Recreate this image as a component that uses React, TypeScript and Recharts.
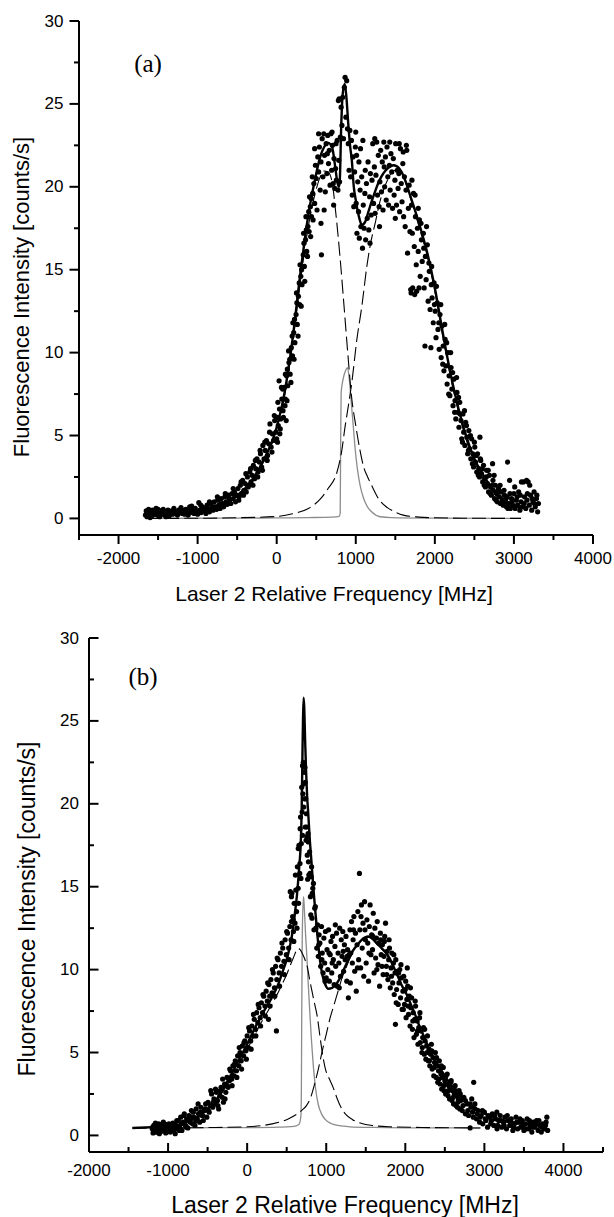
import React from "react";
import { ComposedChart, XAxis, YAxis, Scatter, Line } from "recharts";

type P = [number, number];

// ---------- Panel (a) ----------
const xTicksA = [-2500, -2000, -1500, -1000, -500, 0, 500, 1000, 1500, 2000, 2500, 3000, 3500, 4000];
const yTicks = [0, 2.5, 5, 7.5, 10, 12.5, 15, 17.5, 20, 22.5, 25, 27.5, 30];

const scatterA: P[] = [
  [-1660,0.2],[-1650,0.45],[-1640,0.1],[-1630,0.3],[-1620,0.55],[-1610,0.2],[-1595,0.35],[-1580,0.15],[-1570,0.5],[-1555,0.25],[-1540,0.4],[-1525,0.6],[-1510,0.2],[-1495,0.35],[-1480,0.1],[-1465,0.45],[-1450,0.3],[-1435,0.55],[-1420,0.2],[-1405,0.4],[-1390,0.25],[-1375,0.5],[-1360,0.15],[-1345,0.35],[-1330,0.45],[-1315,0.25],[-1300,0.6],[-1285,0.3],[-1270,0.4],[-1255,0.2],[-1240,0.5],[-1225,0.35],[-1210,0.65],[-1195,0.3],[-1180,0.45],[-1165,0.25],[-1150,0.55],[-1135,0.4],[-1120,0.2],[-1105,0.5],[-1090,0.35],[-1075,0.75],[-1060,0.4],[-1045,0.3],[-1030,0.6],[-1015,0.45],[-1000,0.25],
  [-985,0.95],[-970,0.5],[-955,0.35],[-940,0.7],[-925,0.45],[-910,0.6],[-895,0.3],[-880,0.8],[-865,0.55],[-850,0.4],[-835,0.9],[-820,0.65],[-805,0.5],[-790,1.0],[-775,0.7],[-760,0.55],[-745,1.1],[-730,0.8],[-715,0.6],[-700,1.2],[-685,0.9],[-670,0.7],[-655,1.3],[-640,1.0],[-625,0.85],[-610,1.4],[-595,1.1],[-580,0.9],[-565,1.5],[-550,1.2],[-535,1.6],[-520,1.0],[-505,1.4],
  [-490,1.8],[-475,1.3],[-460,2.0],[-445,1.5],[-430,2.3],[-415,1.7],[-400,2.1],[-385,1.6],[-370,2.5],[-355,2.0],[-340,2.8],[-325,2.2],[-310,2.6],[-295,3.2],[-280,2.4],[-265,3.0],[-250,3.6],[-235,2.8],[-220,3.4],[-205,3.9],[-190,3.1],[-175,4.4],[-160,3.6],[-145,4.1],[-130,4.7],[-115,3.8],[-100,4.5],[-85,5.7],[-70,4.3],[-55,5.1],[-40,4.7],[-25,5.9],[-10,5.2],[5,6.1],
  [20,5.6],[30,8.3],[35,6.6],[50,6.0],[65,7.2],[80,6.5],[95,7.9],[110,7.2],[120,5.9],[125,8.6],[140,8.0],[155,9.4],[170,8.7],[185,10.3],[200,9.8],[215,11.2],[230,10.6],[245,12.3],[260,11.7],[275,13.4],[290,12.9],[305,14.6],[320,14.1],[335,15.9],[350,15.2],[365,16.8],[380,16.1],[395,17.6],[410,17.3],[425,18.8],[440,18.2],[455,19.6],
  [10,4.6],[45,5.4],[75,7.8],[105,6.8],[135,9.0],[165,9.6],[195,11.0],[225,12.0],[255,13.0],[285,14.2],[315,15.0],[345,16.6],[375,17.4],[405,18.5],[435,19.3],
  [470,20.2],[480,19.0],[490,21.3],[500,20.5],[510,18.6],[520,21.8],[530,20.9],[540,22.4],[550,19.8],[560,21.5],[566,15.9],[575,22.9],[585,20.6],[595,23.2],[605,21.9],[615,19.7],[625,22.6],[635,20.8],[645,23.1],[655,21.4],[665,22.2],[675,20.1],[685,23.2],[695,21.0],[705,22.5],[715,20.2],[725,21.7],[735,19.9],[745,21.1],[755,20.4],[765,22.8],[775,19.8],[785,21.6],[795,20.3],
  [780,25.2],[790,25.3],[805,23.0],[815,24.8],[825,23.7],[835,25.4],[845,22.9],[855,26.0],[865,26.6],[875,24.2],[885,26.4],[895,23.5],[905,22.6],[915,21.0],[925,23.4],[935,20.6],[945,22.8],
  [955,19.5],[965,21.8],[975,18.8],[985,20.9],[995,22.4],[1000,23.3],[1005,19.0],[1015,17.2],[1025,20.3],[1035,18.5],[1040,21.5],[1045,16.9],[1055,19.8],[1065,17.6],[1075,20.6],[1085,16.3],[1090,22.8],[1095,18.9],[1105,17.5],[1115,19.6],[1125,16.8],[1135,20.2],[1145,18.1],[1155,21.5],[1165,17.4],[1175,19.4],[1185,20.8],[1195,18.3],
  [1205,20.4],[1215,22.6],[1225,19.0],[1235,21.2],[1245,18.4],[1255,20.7],[1265,22.7],[1275,19.5],[1285,21.9],[1295,18.8],[1305,20.3],[1315,22.2],[1325,19.7],[1335,21.5],[1345,18.6],[1355,22.7],[1365,20.0],[1375,21.8],[1385,19.2],[1395,22.4],[1405,20.6],[1415,18.9],[1425,21.3],[1435,19.8],[1445,22.0],[1455,20.9],[1465,18.7],[1475,21.7],[1485,19.5],[1495,20.4],[1505,22.6],[1515,18.9],[1525,21.0],[1535,19.9],[1545,20.8],[1555,18.5],[1565,22.3],[1575,20.2],[1585,19.1],[1595,21.4],[1605,18.2],[1615,20.6],[1625,17.6],[1635,19.8],[1645,22.2],[1655,16.0],[1665,18.7],[1675,20.1],[1685,17.3],[1695,13.8],
  [1700,13.6],[1720,13.9],[1745,13.5],[1770,13.7],[1800,13.9],
  [1705,18.9],[1715,17.2],[1730,19.6],[1740,16.4],[1755,18.2],[1765,15.3],[1780,17.5],[1790,16.1],[1805,18.0],[1815,14.6],[1830,16.8],[1840,15.5],[1855,17.2],[1865,13.9],[1875,10.4],[1880,15.8],[1890,14.4],[1905,16.5],[1915,13.1],[1930,14.9],[1940,12.6],[1950,10.3],[1955,14.1],[1965,13.3],[1980,11.8],[1990,14.2],[2005,12.5],[2015,10.9],[2030,13.0],[2040,11.4],[2055,10.2],[2065,12.3],[2080,9.7],[2090,11.6],[2105,10.4],[2115,8.9],[2130,10.8],[2140,9.2],[2155,8.1],[2165,10.0],[2180,8.6],[2190,7.4],[2205,9.1],[2215,7.8],[2230,6.8],[2240,8.4],[2255,7.1],[2265,6.0],[2280,7.6],[2290,6.4],
  [2305,5.5],[2315,7.0],[2330,5.9],[2340,4.8],[2355,6.3],[2365,5.2],[2380,4.4],[2390,5.8],[2405,4.9],[2415,3.9],[2430,5.3],[2440,4.2],[2455,3.6],[2465,4.8],[2480,3.9],[2490,3.1],[2505,4.3],[2515,3.4],[2530,2.8],[2540,3.9],[2555,3.0],[2565,2.5],[2570,4.9],[2580,3.5],[2590,2.7],[2605,2.2],[2615,3.2],[2630,2.4],[2640,1.9],[2655,2.9],[2665,2.1],[2680,1.6],[2690,2.6],[2705,1.9],[2715,1.4],[2730,3.3],[2735,2.3],[2740,1.7],[2755,1.2],[2765,2.0],[2780,1.5],[2790,1.0],[2805,1.8],[2815,1.3],[2830,0.9],[2840,1.6],[2855,1.1],[2865,0.8],[2880,1.4],[2890,1.0],[2905,0.7],[2915,1.3],[2920,3.4],[2930,0.9],[2945,2.3],[2955,0.6],[2970,1.2],[2985,0.8],[3000,1.5],[3015,0.6],[3030,1.1],[3045,0.8],[3060,1.6],[3075,0.5],[3090,1.0],[3095,2.2],[3105,0.7],[3120,2.2],[3135,1.3],[3150,0.6],[3160,2.3],[3165,1.1],[3180,2.2],[3195,0.8],[3200,2.0],[3210,1.4],[3225,0.5],[3240,1.0],[3255,1.6],[3270,0.7],[3285,1.2],[3300,0.4],[3310,0.9]
];

const scatterAExtra: P[] = [
  [-1600,0.05],[-1500,0.55],[-1400,0.1],[-1300,0.3],[-1200,0.5],[-1100,0.7],[-1050,0.55],[-960,0.8],[-900,0.5],[-850,1.0],[-800,0.7],[-750,1.3],[-700,0.9],[-650,1.5],[-600,1.2],[-550,1.8],[-520,1.4],
  [-480,1.1],[-450,2.2],[-420,1.4],[-390,2.7],[-360,1.9],[-330,3.0],[-300,2.0],[-270,3.5],[-240,2.5],[-210,4.1],[-180,2.9],[-150,4.6],[-120,3.5],[-90,5.2],[-60,4.0],[-30,6.2],[0,4.8],
  [15,7.0],[40,5.1],[60,7.9],[85,6.1],[110,8.7],[130,7.1],[150,10.1],[180,8.2],[205,11.8],[220,9.6],[250,13.6],[270,11.0],[295,15.3],[310,12.8],[340,17.2],[355,14.3],[370,18.2],[390,15.8],[415,19.4],[430,17.0],[450,20.6],[460,18.0],
  [480,22.3],[530,23.2],[560,17.8],[600,18.6],[640,22.0],[700,23.3],[720,18.9],[750,22.6],
  [1010,21.9],[1060,22.3],[1120,21.0],[1180,16.6],[1240,22.9],[1300,17.6],[1360,21.2],[1430,22.7],[1500,18.1],[1550,22.6],[1600,22.1],[1640,22.5],
  [1710,20.4],[1750,19.5],[1790,18.7],[1825,17.8],[1860,16.3],[1895,17.6],[1925,15.4],[1960,15.2],[1995,12.9],[2020,14.0],[2050,11.8],[2075,12.9],[2100,9.3],[2125,11.7],[2150,10.6],[2175,7.5],[2200,10.0],[2225,8.8],[2250,6.4],[2275,8.5],[2300,7.3],
  [2320,6.3],[2350,4.6],[2375,6.5],[2400,5.6],[2425,4.1],[2450,5.0],[2475,3.3],[2500,4.6],[2525,3.8],[2550,2.6],[2575,3.6],[2600,3.0],[2625,2.0],[2650,2.5],[2675,2.9],[2700,1.5],[2725,2.0],[2750,2.6],[2775,1.1],[2800,1.6],[2825,2.0],[2850,0.9],[2875,1.7],[2900,1.2],[2925,0.6],[2950,1.5],[2975,1.0],[3010,1.9],[3040,1.3],[3080,1.4],[3130,0.9],[3170,1.5],[3230,1.2],[3260,0.9],[3290,1.4]
];

const fitA: P[] = [
  [-1650,0.16],[-1400,0.22],[-1200,0.3],[-1000,0.45],[-800,0.7],[-600,1.1],[-400,1.8],[-200,3.2],[0,5.5],[100,7.6],[200,10.8],[300,14.8],[400,18.3],[500,20.8],[550,21.8],[600,22.4],[650,22.65],[700,22.4],[740,21.2],[770,20.2],[790,20.0],[800,20.6],[815,23.5],[835,25.6],[860,26.2],[880,25.5],[905,23.8],[930,22.4],[950,21.6],[975,20.0],[1000,19.2],[1040,18.2],[1077,17.7],[1120,17.9],[1160,18.5],[1200,19.1],[1300,20.4],[1400,21.1],[1480,21.3],[1550,21.1],[1600,20.7],[1700,19.3],[1800,17.8],[1900,16.1],[2000,13.9],[2100,11.2],[2200,8.7],[2300,6.6],[2400,4.9],[2500,3.6],[2600,2.7],[2800,1.4],[3000,0.8],[3090,0.62]
];

const leftA: P[] = [
  [-1650,0.15],[-1400,0.2],[-1200,0.27],[-1000,0.4],[-800,0.62],[-600,1.0],[-400,1.65],[-200,3.1],[0,5.4],[100,7.4],[200,10.5],[300,14.3],[400,17.6],[500,19.85],[550,20.6],[600,20.95],[650,20.9],[700,20.3],[750,18.3],[800,15.8],[850,12.9],[900,9.9],[950,7.2],[1000,5.6],[1050,4.2],[1100,3.1],[1150,2.5],[1200,2.0],[1300,1.1],[1400,0.65],[1500,0.38],[1600,0.2],[1800,0.08],[2000,0.04],[2500,0.01],[3090,0]
];

const rightA: P[] = [
  [-1650,0],[-1000,0.01],[-500,0.04],[0,0.12],[200,0.28],[400,0.6],[550,1.16],[650,1.8],[761,2.77],[820,4.0],[866,5.58],[910,6.9],[950,8.2],[1014,10.8],[1077,12.8],[1140,15.2],[1184,16.5],[1250,17.9],[1300,19.0],[1400,20.4],[1500,21.0],[1600,20.6],[1700,19.2],[1800,17.6],[1900,15.9],[2000,13.7],[2100,11.0],[2200,8.5],[2300,6.4],[2400,4.7],[2500,3.4],[2600,2.5],[2800,1.25],[3000,0.7],[3090,0.55]
];

const greyA: P[] = [
  [-1650,0],[-1000,0.01],[-500,0.02],[0,0.03],[400,0.05],[700,0.08],[790,0.12],[803,0.3],[808,4.0],[815,7.6],[840,8.4],[870,8.9],[895,9.1],[920,8.3],[950,6.6],[975,5.2],[992,4.2],[1020,3.0],[1056,1.96],[1100,1.2],[1140,0.76],[1200,0.4],[1308,0.1],[1450,0.05],[2000,0.02],[3090,0]
];

// ---------- Panel (b) ----------
const xTicksB = [-2000, -1500, -1000, -500, 0, 500, 1000, 1500, 2000, 2500, 3000, 3500, 4000, 4500];

const scatterB: P[] = [
  [-1200,0.4],[-1190,0.15],[-1180,0.6],[-1170,0.3],[-1160,0.75],[-1150,0.2],[-1140,0.5],[-1130,0.35],[-1120,0.7],[-1110,0.1],[-1100,0.45],[-1090,0.6],[-1080,0.25],[-1070,0.55],[-1060,0.8],[-1050,0.3],[-1040,0.5],[-1030,0.15],[-1020,0.65],[-1010,0.4],[-1000,0.25],[-990,0.7],[-980,0.45],[-970,0.2],[-960,0.6],[-950,0.35],[-940,0.75],[-930,0.3],[-920,0.5],[-910,0.1],[-900,0.6],
  [-885,0.4],[-870,0.9],[-855,0.5],[-840,1.1],[-825,0.3],[-810,0.8],[-795,1.3],[-780,0.6],[-765,1.0],[-750,0.45],[-735,1.2],[-720,0.8],[-705,1.5],[-690,0.7],[-675,1.1],[-660,0.6],[-645,1.6],[-630,1.0],[-615,1.3],[-600,0.8],[-585,1.7],[-570,1.2],[-555,0.9],[-540,1.5],[-525,1.9],[-510,1.1],
  [-495,2.0],[-480,1.4],[-465,1.8],[-450,2.5],[-435,1.7],[-420,2.2],[-405,1.9],[-390,2.6],[-375,2.1],[-360,1.6],[-345,2.4],[-330,2.9],[-315,2.3],[-300,2.0],[-285,3.1],[-270,2.6],[-255,3.5],[-240,2.9],[-225,3.3],[-210,3.9],[-195,3.4],[-180,4.2],[-165,3.6],[-150,4.5],[-135,3.9],[-120,4.8],[-105,4.2],[-90,5.0],[-75,4.5],[-60,5.4],[-45,4.8],[-30,5.7],[-15,5.1],[0,6.0],
  [15,5.3],[30,6.3],[45,5.7],[60,6.6],[75,6.0],[90,7.0],[105,6.4],[120,7.4],[135,6.8],[150,7.7],[165,7.1],[180,8.0],[195,7.4],[210,8.4],[225,7.8],[240,8.7],[255,8.1],[270,7.0],[275,9.1],[285,8.4],[300,9.4],[315,8.6],[330,9.8],[345,8.9],[360,10.2],[370,6.3],[375,9.4],[390,10.6],[405,9.8],[420,11.0],[435,10.2],[450,11.3],[465,10.5],[480,11.8],[495,10.9],[510,12.2],[525,11.3],[540,12.6],[545,14.7],[555,11.8],[560,14.4],[565,14.6],[575,13.2],[583,13.0],[585,12.3],[595,14.0],
  [605,12.8],[615,14.8],[625,13.5],[635,16.2],[646,17.3],[645,14.9],[655,17.5],[665,15.8],[668,16.4],[675,19.2],[685,17.6],[690,21.0],[695,19.5],[700,22.3],[705,20.6],[710,22.5],[715,19.8],[720,21.9],[725,20.3],[730,22.2],[735,18.6],[740,20.3],[745,17.8],[750,19.4],[752,18.6],[760,16.9],[765,15.45],[770,18.2],[774,17.7],[780,15.7],[790,17.1],[800,14.4],[810,15.6],[815,16.2],[820,13.1],[823,14.6],[830,14.9],[838,15.2],[845,12.4],[855,13.7],[862,13.8],
  [870,12.5],[880,11.3],[890,12.7],[900,10.8],[910,12.1],[920,11.6],[930,10.2],[940,12.6],[950,11.0],[960,9.8],[970,11.9],[980,10.4],[990,12.3],[1000,9.5],[1010,11.2],[1020,10.0],[1030,12.4],[1040,9.3],[1050,10.9],[1060,11.7],[1070,9.8],[1080,12.0],[1090,10.6],[1100,9.1],[1110,11.4],[1120,10.2],[1130,12.2],[1140,9.0],[1150,11.0],[1160,10.4],[1170,12.5],[1180,9.6],[1190,11.8],[1200,10.8],[1210,12.3],[1220,9.9],[1230,11.5],[1240,10.6],[1250,12.0],[1260,9.3],[1270,11.2],[1280,8.3],[1290,10.9],[1300,12.4],
  [1310,11.0],[1320,12.9],[1330,10.4],[1340,11.8],[1350,13.2],[1360,9.9],[1370,12.2],[1380,8.7],[1390,11.5],[1400,13.5],[1410,10.6],[1420,15.8],[1425,12.4],[1435,10.1],[1445,13.9],[1455,11.3],[1465,12.8],[1475,9.6],[1485,14.1],[1495,11.8],[1505,10.4],[1515,13.0],[1525,11.6],[1535,9.3],[1545,12.6],[1555,13.9],[1565,10.9],[1575,12.1],[1585,11.2],[1595,13.4],[1605,9.8],[1615,12.5],[1625,10.7],[1635,11.9],[1645,12.9],[1655,10.3],[1665,11.6],[1675,9.0],[1685,12.2],[1695,10.9],
  [1710,11.5],[1720,9.7],[1730,10.8],[1740,12.0],[1750,12.8],[1760,10.2],[1770,11.1],[1780,9.4],[1790,10.6],[1800,11.3],[1810,8.9],[1820,10.1],[1830,11.0],[1840,9.2],[1850,10.4],[1860,8.5],[1870,9.8],[1875,6.7],[1880,10.6],[1890,8.8],[1900,9.9],[1910,7.9],[1920,9.2],[1930,10.0],[1940,8.3],[1950,9.5],[1960,7.6],[1970,8.7],[1980,9.6],[1990,7.9],[2000,8.8],[2010,7.1],[2020,8.2],[2025,10.1],[2030,9.0],[2040,7.3],[2050,8.4],[2060,6.6],[2070,7.7],[2080,8.3],[2090,6.4],[2100,7.4],[2110,5.9],[2120,7.0],[2130,7.8],[2140,6.1],[2150,6.9],[2160,5.5],[2170,6.5],[2180,7.1],[2190,5.6],[2200,6.3],[2210,5.0],[2220,5.9],[2230,6.5],[2240,4.9],[2250,5.7],[2260,4.6],[2270,5.4],[2280,6.0],[2290,4.5],
  [2300,5.2],[2310,4.2],[2320,4.9],[2330,5.5],[2340,4.0],[2350,4.7],[2360,3.6],[2370,4.4],[2380,5.0],[2390,3.5],[2400,4.2],[2410,3.2],[2420,3.9],[2430,4.5],[2440,3.1],[2450,3.7],[2460,2.8],[2470,3.5],[2480,4.1],[2490,2.7],[2500,3.3],[2510,2.5],[2520,3.1],[2530,3.7],[2540,2.4],[2550,3.0],[2560,2.2],[2570,2.8],[2580,3.3],[2590,2.1],[2600,2.7],[2610,1.9],[2620,2.5],[2630,3.0],[2640,1.8],[2650,2.4],[2660,1.7],[2670,2.2],[2680,2.7],[2690,1.6],[2700,2.1],[2720,1.5],[2740,2.3],[2760,1.3],[2780,1.9],[2800,1.2],[2820,0.45],[2830,1.7],[2840,2.2],[2860,1.1],[2865,3.2],[2880,1.6],[2900,1.0],
  [2920,1.5],[2940,0.8],[2960,1.2],[2980,0.7],[3000,1.4],[3020,0.9],[3040,0.5],[3060,1.1],[3080,0.7],[3100,1.3],[3120,0.6],[3140,1.0],[3157,1.4],[3160,0.4],[3180,0.9],[3200,1.2],[3220,0.5],[3240,0.8],[3260,1.1],[3280,0.4],[3300,0.9],[3320,0.6],[3340,1.0],[3360,0.3],[3380,0.7],[3400,1.1],[3420,0.4],[3440,0.8],[3460,0.5],[3480,0.9],[3500,0.3],[3520,0.7],[3540,1.0],[3560,0.4],[3580,0.6],[3600,0.2],[3620,0.8],[3640,0.5],[3660,0.9],[3680,0.3],[3700,0.6],[3720,0.2],[3740,0.7],[3760,0.4],[3780,0.8],[3800,0.3]
];

const scatterBExtra: P[] = [
  [-1195,0.5],[-1165,0.45],[-1135,0.2],[-1105,0.65],[-1075,0.4],[-1045,0.7],[-1015,0.2],[-985,0.5],[-955,0.55],[-925,0.65],
  [-890,0.9],[-860,0.3],[-830,0.7],[-800,1.2],[-770,0.5],[-740,0.9],[-710,1.1],[-680,1.4],[-650,0.9],[-620,1.9],[-590,1.4],[-560,1.2],[-530,1.6],
  [-490,1.5],[-460,2.7],[-430,2.0],[-400,2.8],[-370,1.8],[-340,2.7],[-310,3.4],[-280,2.2],[-250,3.0],[-220,4.0],[-190,3.0],[-160,4.3],[-130,3.5],[-100,5.3],[-70,4.0],[-40,5.6],[-10,4.6],
  [20,6.5],[50,5.2],[80,7.3],[110,6.0],[140,7.9],[170,6.6],[200,8.5],[230,7.2],[260,9.2],[290,7.8],[320,10.0],[350,8.4],[380,10.7],[410,9.0],[440,11.6],[470,9.7],[500,12.3],[530,10.6],[560,12.9],[590,11.7],
  [610,15.7],[630,12.5],[650,14.0],[670,18.5],[680,15.5],[700,18.1],[712,21.2],[722,22.4],[735,21.3],[755,18.0],[775,16.5],[795,15.8],[805,13.3],
  [905,11.5],[945,10.6],[985,9.3],[1035,11.0],[1075,10.4],[1115,12.7],[1165,8.9],[1215,11.1],[1265,10.8],[1305,9.2],[1345,12.4],[1395,10.1],[1440,13.2],[1490,12.4],[1540,11.0],[1590,12.0],[1640,10.0],[1690,11.8],
  [1705,10.2],[1735,11.7],[1765,9.7],[1795,11.8],[1825,9.6],[1855,10.9],[1885,8.0],[1915,9.8],[1945,10.3],[1975,7.6],[2005,9.3],[2035,7.8],[2065,8.9],[2095,6.9],[2125,8.1],[2155,6.3],[2185,7.4],[2215,5.3],[2245,6.4],[2275,5.0],
  [2305,4.5],[2335,5.1],[2365,4.1],[2395,4.7],[2425,3.4],[2455,4.2],[2485,3.0],[2515,3.6],[2545,2.7],[2575,3.2],[2605,2.3],[2635,2.7],[2665,2.0],[2695,2.5],[2730,1.8],[2760,2.1],[2790,1.5],[2820,1.9],[2850,1.4],[2880,1.9],[2910,1.3],[2945,1.1],[2975,1.5],[3010,1.0],[3050,1.2],
  [3090,0.9],[3130,1.2],[3170,0.6],[3210,0.9],[3250,0.6],[3290,1.2],[3330,0.8],[3370,0.5],[3410,0.8],[3450,1.0],[3490,0.6],[3530,0.4],[3570,0.9],[3610,0.5],[3650,0.7],[3690,0.9],[3730,0.5],[3770,0.6],[3790,1.1]
];

const fitB: P[] = [
  [-1450,0.45],[-1200,0.5],[-1000,0.55],[-900,0.6],[-800,0.75],[-700,0.95],[-600,1.2],[-550,1.43],[-400,2.1],[-300,2.85],[-200,3.7],[-100,4.6],[0,5.5],[100,6.5],[200,7.4],[300,8.2],[400,9.2],[450,9.9],[500,10.6],[540,11.4],[575,12.3],[604,13.4],[630,14.5],[646,15.4],[662,16.4],[676,17.4],[689,19.5],[698,22.5],[706,25.0],[714,26.4],[722,25.8],[732,24.0],[745,22.0],[758,20.5],[772,19.45],[790,18.0],[815,16.4],[836,15.0],[857,13.8],[886,12.2],[920,10.6],[950,9.7],[984,9.15],[1025,8.85],[1075,8.9],[1131,9.15],[1185,9.6],[1237,10.16],[1290,10.7],[1342,11.17],[1395,11.5],[1448,11.8],[1532,12.0],[1590,11.85],[1638,11.6],[1700,11.3],[1765,10.97],[1830,10.4],[1891,9.76],[1950,9.1],[2018,8.5],[2070,7.9],[2123,7.3],[2174,6.65],[2250,5.8],[2322,5.0],[2420,4.2],[2520,3.44],[2620,2.8],[2718,2.26],[2840,1.8],[2965,1.43],[3100,1.1],[3311,0.83],[3550,0.68],[3806,0.6]
];

const leftB: P[] = [
  [-1450,0.45],[-1200,0.48],[-1000,0.54],[-900,0.58],[-800,0.72],[-700,0.9],[-600,1.15],[-550,1.35],[-400,2.0],[-300,2.7],[-200,3.5],[-100,4.35],[0,5.2],[100,6.1],[200,7.0],[300,7.8],[400,8.7],[450,9.2],[500,9.7],[540,10.2],[575,10.6],[604,10.95],[630,11.2],[650,11.27],[670,11.2],[690,11.05],[710,10.85],[735,10.55],[760,10.2],[790,9.4],[820,8.7],[850,8.0],[886,7.2],[920,6.0],[950,5.0],[990,4.0],[1040,3.4],[1087,2.9],[1140,2.2],[1186,1.7],[1250,1.25],[1333,0.95],[1450,0.72],[1580,0.6],[1800,0.52],[2200,0.48],[2950,0.45]
];

const rightB: P[] = [
  [-1450,0.45],[-800,0.46],[-400,0.48],[0,0.52],[200,0.6],[400,0.8],[500,0.95],[600,1.2],[700,1.55],[750,1.8],[800,2.25],[850,3.05],[900,4.0],[950,5.1],[1000,6.1],[1050,7.1],[1100,7.9],[1150,8.7],[1200,9.5],[1250,10.1],[1300,10.7],[1350,11.2],[1400,11.55],[1450,11.75],[1532,11.95],[1590,11.8],[1638,11.55],[1700,11.25],[1765,10.9],[1830,10.35],[1891,9.7],[1950,9.05],[2018,8.45],[2070,7.85],[2123,7.25],[2174,6.6],[2250,5.75],[2322,4.95],[2420,4.15],[2520,3.4],[2620,2.75],[2718,2.2],[2840,1.75],[2965,1.38],[3100,1.05],[3311,0.8],[3550,0.65],[3806,0.57]
];

const greyB: P[] = [
  [-1450,0.45],[-800,0.46],[0,0.47],[400,0.5],[550,0.53],[620,0.58],[660,0.7],[680,1.2],[686,3.0],[690,7.0],[696,11.5],[704,13.6],[714,14.4],[724,13.6],[738,12.2],[755,10.8],[772,9.2],[790,7.6],[810,6.0],[830,4.6],[850,3.5],[875,2.5],[900,1.85],[940,1.3],[990,0.95],[1060,0.72],[1150,0.6],[1300,0.52],[1600,0.48],[2000,0.46],[2950,0.45]
];

// ---------- helpers ----------
const toPts = (a: P[]) => a.map(([x, y]) => ({ x, y }));
const SANS = "'Liberation Sans', Arial, Helvetica, sans-serif";
const SERIF = "'Liberation Serif', 'Times New Roman', Times, serif";

const Dot = (p: any) => <circle cx={p.cx} cy={p.cy} r={2.6} fill="#000" />;

function makeXTick(outward: boolean, labelDy: number) {
  return (p: any) => {
    const v = p.payload.value;
    const major = v % 1000 === 0;
    const len = major ? 9 : 5;
    const d = outward ? 1 : -1;
    return (
      <g>
        <line x1={p.x} x2={p.x} y1={p.y} y2={p.y + d * len} stroke="#000" strokeWidth={2} />
        {major && (
          <text x={p.x} y={p.y + labelDy} textAnchor="middle" dominantBaseline="central" fontSize={17} fontFamily={SANS} fill="#000">
            {v}
          </text>
        )}
      </g>
    );
  };
}

function makeYTick(outward: boolean, labelDx: number) {
  return (p: any) => {
    const v = p.payload.value;
    const major = v % 5 === 0;
    const len = major ? 9.5 : 5;
    const d = outward ? -1 : 1;
    return (
      <g>
        <line x1={p.x} x2={p.x + d * len} y1={p.y} y2={p.y} stroke="#000" strokeWidth={2} />
        {major && (
          <text x={p.x - labelDx} y={p.y} textAnchor="end" dominantBaseline="central" fontSize={17} fontFamily={SANS} fill="#000">
            {v}
          </text>
        )}
      </g>
    );
  };
}

const axisLine = { stroke: "#000", strokeWidth: 2 };

function Panel(props: {
  width: number; height: number; margin: any; yWidth: number; xHeight: number;
  xDomain: [number, number]; xTicks: number[]; outward: boolean; xLabelDy: number; yLabelDx: number;
  scatter: P[]; fit: P[]; left: P[]; right: P[]; grey: P[];
}) {
  return (
    <ComposedChart width={props.width} height={props.height} margin={props.margin}>
      <XAxis
        type="number" dataKey="x" domain={props.xDomain} ticks={props.xTicks} interval={0}
        height={props.xHeight} tickSize={0} tickMargin={0} tickLine={false} axisLine={axisLine}
        tick={makeXTick(props.outward, props.xLabelDy)} allowDataOverflow
      />
      <YAxis
        type="number" dataKey="y" domain={[-1, 30]} ticks={yTicks} interval={0}
        width={props.yWidth} tickSize={0} tickMargin={0} tickLine={false} axisLine={axisLine}
        tick={makeYTick(props.outward, props.yLabelDx)} allowDataOverflow
      />
      <Scatter data={toPts(props.scatter)} shape={Dot} isAnimationActive={false} />
      <Line data={toPts(props.grey)} dataKey="y" type="monotone" stroke="#8c8c8c" strokeWidth={1.3} dot={false} isAnimationActive={false} />
      <Line data={toPts(props.left)} dataKey="y" type="monotone" stroke="#000" strokeWidth={1.1} strokeDasharray="14 5" dot={false} isAnimationActive={false} />
      <Line data={toPts(props.right)} dataKey="y" type="monotone" stroke="#000" strokeWidth={1.1} strokeDasharray="14 5" dot={false} isAnimationActive={false} />
      <Line data={toPts(props.fit)} dataKey="y" type="monotone" stroke="#000" strokeWidth={2.4} dot={false} isAnimationActive={false} />
    </ComposedChart>
  );
}

export default function App() {
  return (
    <div style={{ position: "absolute", left: 0, top: 0, width: 614, height: 1217, background: "#fff", overflow: "hidden" }}>
      <div style={{ position: "absolute", left: 0, top: 0 }}>
        <Panel
          width={614} height={610} margin={{ top: 21, right: 21, bottom: 0, left: 0 }}
          yWidth={79} xHeight={75} xDomain={[-2500, 4000]} xTicks={xTicksA} outward={true}
          xLabelDy={23} yLabelDx={15.5}
          scatter={[...scatterA, ...scatterAExtra]} fit={fitA} left={leftA} right={rightA} grey={greyA}
        />
      </div>
      <div style={{ position: "absolute", left: 0, top: 610 }}>
        <Panel
          width={614} height={607} margin={{ top: 28, right: 11, bottom: 0, left: 0 }}
          yWidth={89} xHeight={65} xDomain={[-2000, 4500]} xTicks={xTicksB} outward={false}
          xLabelDy={18.5} yLabelDx={10}
          scatter={[...scatterB, ...scatterBExtra]} fit={fitB} left={leftB} right={rightB} grey={greyB}
        />
      </div>
      <svg width={614} height={1217} style={{ position: "absolute", left: 0, top: 0, pointerEvents: "none" }}>
        <text x={148} y={72} textAnchor="middle" fontSize={25} fontFamily={SERIF} fill="#000">(a)</text>
        <text x={143} y={685} textAnchor="middle" fontSize={25} fontFamily={SERIF} fill="#000">(b)</text>
        <text x={334} y={593} textAnchor="middle" dominantBaseline="central" fontSize={21} fontFamily={SANS} fill="#000">
          Laser 2 Relative Frequency [MHz]
        </text>
        <text x={21} y={297} textAnchor="middle" dominantBaseline="central" fontSize={22} fontFamily={SANS} fill="#000" transform="rotate(-90 21 297)">
          Fluorescence Intensity [counts/s]
        </text>
        <text x={345} y={1205} textAnchor="middle" dominantBaseline="central" fontSize={23} fontFamily={SANS} fill="#000">
          Laser 2 Relative Frequency [MHz]
        </text>
        <text x={27} y={909} textAnchor="middle" dominantBaseline="central" fontSize={23} fontFamily={SANS} fill="#000" transform="rotate(-90 27 909)">
          Fluorescence Intensity [counts/s]
        </text>
      </svg>
    </div>
  );
}
